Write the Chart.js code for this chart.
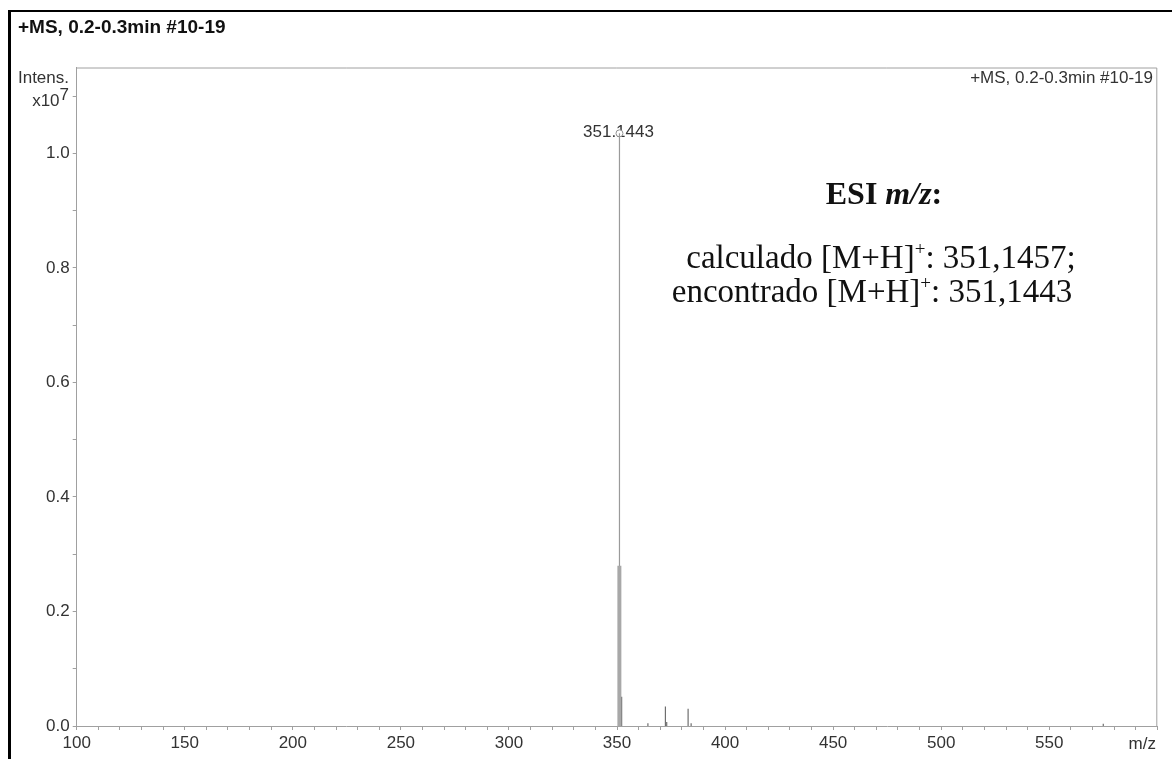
<!DOCTYPE html>
<html>
<head>
<meta charset="utf-8">
<script src="https://cdn.jsdelivr.net/npm/chart.js@4.4.0/dist/chart.umd.min.js"></script>
<style>
  html, body { margin: 0; padding: 0; background: #fff; }
  #wrap { position: relative; width: 1172px; height: 759px; overflow: hidden; }
</style>
</head>
<body>
<div id="wrap"><canvas id="ms" width="1172" height="759"></canvas></div>
<script>
// spectrum data (m/z vs intensity, x10^7)
const peakMz      = [351.1443, 352.15, 364.3, 372.4, 373.0, 382.9, 384.3, 575.0];
const peakIntens  = [1.035,    0.051,  0.005, 0.034, 0.007, 0.030, 0.005, 0.004];
const shoulderMz     = [351.1];
const shoulderIntens = [0.28];

const xTickLabels = [100, 150, 200, 250, 300, 350, 400, 450, 500, 550];
const yTickLabels = [0.0, 0.2, 0.4, 0.6, 0.8, 1.0];
const yTickSteps  = [0, 0.1, 0.2, 0.3, 0.4, 0.5, 0.6, 0.7, 0.8, 0.9, 1.0, 1.1];

const headerText = '+MS, 0.2-0.3min #10-19';
const peakLabel  = '351.1443';

const SANS  = '"Liberation Sans", Arial, sans-serif';
const SERIF = '"Liberation Serif", "Times New Roman", serif';
const AXIS_GREY = '#a0a0a0';

const xTickSteps = [];
for (let v = 100; v <= 600; v += 10) xTickSteps.push(v);

// vertical sticks from (mz, 0) up to (mz, h)
function sticks(mz, h){
  const pts = [];
  mz.forEach((m, i) => { pts.push({x: m, y: 0}, {x: m, y: h[i]}, {x: m, y: 0}); });
  return pts;
}
const hideBase = c => (c.p0.parsed.y === 0 && c.p1.parsed.y === 0) ? 'rgba(0,0,0,0)' : undefined;

// text with superscripts on the canvas
function drawRich(ctx, parts, x, y, align){
  let w = 0;
  parts.forEach(p => { ctx.font = p.font; w += ctx.measureText(p.t).width; });
  let cx = align === 'center' ? x - w / 2 : (align === 'right' ? x - w : x);
  ctx.textAlign = 'left';
  parts.forEach(p => {
    ctx.font = p.font;
    ctx.fillText(p.t, cx, y + (p.dy || 0));
    cx += ctx.measureText(p.t).width;
  });
}

const textPlugin = {
  id: 'msText',
  beforeDatasetsDraw(chart){
    // peak label goes under the marker
    const { ctx, scales: { x, y } } = chart;
    const px = x.getPixelForValue(peakMz[0]);
    const py = y.getPixelForValue(peakIntens[0]);
    ctx.save();
    ctx.fillStyle = '#333';
    ctx.font = '17px ' + SANS;
    ctx.textAlign = 'center';
    ctx.textBaseline = 'alphabetic';
    ctx.fillText(peakLabel, px - 1, py + 4);
    ctx.restore();
  },
  afterDraw(chart){
    const { ctx, chartArea: a } = chart;
    ctx.save();
    // page frame
    ctx.fillStyle = '#000';
    ctx.fillRect(8, 10, 1164, 2);
    ctx.fillRect(8, 10, 3, 749);
    // plot frame top/right
    ctx.strokeStyle = AXIS_GREY; ctx.lineWidth = 1;
    ctx.beginPath();
    ctx.moveTo(a.left, a.top + 0.5);
    ctx.lineTo(a.right - 0.5, a.top + 0.5);
    ctx.lineTo(a.right - 0.5, a.bottom);
    ctx.stroke();

    ctx.textBaseline = 'alphabetic';
    ctx.fillStyle = '#111';
    ctx.font = 'bold 19px ' + SANS;
    ctx.textAlign = 'left';
    ctx.fillText(headerText, 18, 33);

    ctx.fillStyle = '#333';
    ctx.font = '17px ' + SANS;
    ctx.textAlign = 'right';
    ctx.fillText(headerText, 1153, 83);
    ctx.fillText('Intens.', 69, 83);
    ctx.fillText('m/z', 1156, 749);
    drawRich(ctx, [
      { t: 'x10', font: '17px ' + SANS },
      { t: '7', font: '17px ' + SANS, dy: -6 }
    ], 69, 106, 'right');

    // annotation
    ctx.fillStyle = '#111';
    drawRich(ctx, [
      { t: 'ESI ', font: 'bold 32px ' + SERIF },
      { t: 'm/z', font: 'italic bold 32px ' + SERIF },
      { t: ':', font: 'bold 32px ' + SERIF }
    ], 884, 204, 'center');
    drawRich(ctx, [
      { t: 'calculado [M+H]', font: '33px ' + SERIF },
      { t: '+', font: '19px ' + SERIF, dy: -13 },
      { t: ': 351,1457;', font: '33px ' + SERIF }
    ], 881, 268, 'center');
    drawRich(ctx, [
      { t: 'encontrado [M+H]', font: '33px ' + SERIF },
      { t: '+', font: '19px ' + SERIF, dy: -13 },
      { t: ': 351,1443', font: '33px ' + SERIF }
    ], 872, 302, 'center');
    ctx.restore();
  }
};

new Chart(document.getElementById('ms'), {
  type: 'line',
  data: {
    datasets: [
      {
        data: sticks(shoulderMz, shoulderIntens),
        borderColor: '#a8a8a8', borderWidth: 4, pointRadius: 0,
        segment: { borderColor: hideBase }
      },
      {
        data: sticks(peakMz.slice(0, 1), peakIntens.slice(0, 1)),
        borderColor: '#9a9a9a', borderWidth: 1.2, pointRadius: 0,
        segment: { borderColor: hideBase }
      },
      {
        data: sticks(peakMz.slice(1), peakIntens.slice(1)),
        borderColor: '#6e6e6e', borderWidth: 1.2, pointRadius: 0,
        segment: { borderColor: hideBase }
      },
      {
        data: [{ x: peakMz[0], y: peakIntens[0] }],
        showLine: false, pointRadius: 3.5, pointBorderWidth: 1,
        pointBackgroundColor: '#fff', pointBorderColor: '#909090'
      }
    ]
  },
  options: {
    responsive: false,
    animation: false,
    events: [],
    layout: { padding: { top: 67.5, right: 14.7, bottom: 0, left: 0 } },
    plugins: { legend: { display: false }, tooltip: { enabled: false } },
    scales: {
      x: {
        type: 'linear', min: 100, max: 600,
        afterBuildTicks: s => { s.ticks = xTickSteps.map(v => ({ value: v })); },
        afterFit: s => { s.height = 33; },
        ticks: {
          autoSkip: false, maxRotation: 0, padding: 3, color: '#333',
          font: { family: SANS, size: 17 },
          callback: v => xTickLabels.includes(v) ? String(v) : ''
        },
        grid: { drawOnChartArea: false, drawTicks: true, tickLength: 4, color: AXIS_GREY },
        border: { display: true, color: AXIS_GREY, width: 1 }
      },
      y: {
        type: 'linear', min: 0, max: 1.15,
        afterBuildTicks: s => { s.ticks = yTickSteps.map(v => ({ value: v })); },
        afterFit: s => { s.width = 76.7; },
        ticks: {
          autoSkip: false, padding: 3, color: '#333',
          font: { family: SANS, size: 17 },
          callback: v => yTickLabels.some(t => Math.abs(t - v) < 1e-6) ? v.toFixed(1) : ''
        },
        grid: { drawOnChartArea: false, drawTicks: true, tickLength: 4, color: AXIS_GREY },
        border: { display: true, color: AXIS_GREY, width: 1 }
      }
    }
  },
  plugins: [textPlugin]
});
</script>
</body>
</html>
